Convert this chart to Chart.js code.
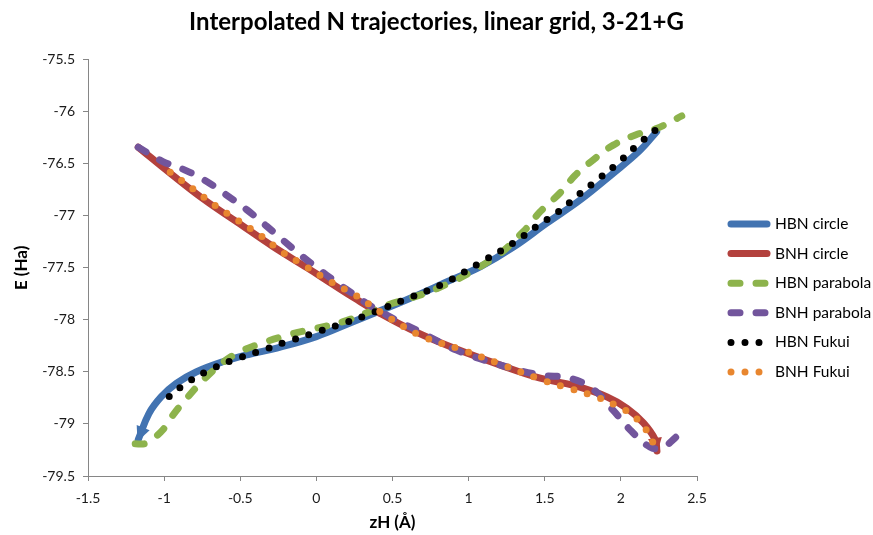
<!DOCTYPE html>
<html>
<head>
<meta charset="utf-8">
<script src="https://cdn.jsdelivr.net/npm/chart.js@4/dist/chart.umd.min.js"></script>
<style>
  html, body { margin: 0; padding: 0; background: #ffffff; }
  #wrap { width: 873px; height: 535px; }
</style>
</head>
<body>
<div id="wrap"><canvas id="chart" width="873" height="535"></canvas></div>
<script>
// Axis ticks
const xTicks = [-1.5, -1, -0.5, 0, 0.5, 1, 1.5, 2, 2.5];
const yTicks = [-79.5, -79, -78.5, -78, -77.5, -77, -76.5, -76, -75.5];

// Series labels
const seriesNames = ['HBN circle', 'BNH circle', 'HBN parabola', 'BNH parabola', 'HBN Fukui', 'BNH Fukui'];

// HBN circle (zH in Å, E in Ha), runs toward the arrow end
const hbnCircleX = [2.235, 2.126, 1.95, 1.73, 1.513, 1.294, 1.075, 0.878, 0.62, 0.407, 0.221, 0.0, -0.26, -0.44, -0.61, -0.79, -0.92, -1.02, -1.10, -1.17];
const hbnCircleY = [-76.19, -76.37, -76.59, -76.85, -77.07, -77.30, -77.49, -77.62, -77.79, -77.92, -78.03, -78.16, -78.27, -78.33, -78.40, -78.50, -78.61, -78.74, -78.90, -79.15];

// BNH circle, runs toward the arrow end
const bnhCircleX = [-1.17, -0.96, -0.74, -0.52, -0.29, -0.06, 0.11, 0.25, 0.41, 0.66, 0.92, 1.2, 1.47, 1.69, 1.91, 2.04, 2.148, 2.225, 2.237];
const bnhCircleY = [-76.34, -76.59, -76.84, -77.06, -77.29, -77.50, -77.66, -77.79, -77.93, -78.12, -78.28, -78.43, -78.56, -78.63, -78.74, -78.85, -78.99, -79.15, -79.26];

// HBN parabola
const hbnParabolaX = [-1.19, -1.13, -1.08, -1.005, -0.95, -0.85, -0.71, -0.546, -0.39, -0.173, 0.0, 0.177, 0.44, 0.79, 1.16, 1.36, 1.47, 1.60, 1.70, 1.82, 1.95, 2.10, 2.235, 2.40];
const hbnParabolaY = [-79.19, -79.19, -79.15, -79.05, -78.93, -78.75, -78.53, -78.34, -78.24, -78.14, -78.08, -78.016, -77.87, -77.70, -77.41, -77.15, -76.96, -76.78, -76.61, -76.46, -76.32, -76.22, -76.16, -76.04];

// BNH parabola
const bnhParabolaX = [-1.17, -1.005, -0.863, -0.72, -0.59, -0.458, -0.326, -0.206, -0.075, 0.068, 0.20, 0.396, 0.70, 0.92, 1.2, 1.47, 1.666, 1.82, 1.95, 2.07, 2.19, 2.27, 2.366, 2.40];
const bnhParabolaY = [-76.34, -76.48, -76.56, -76.67, -76.80, -76.94, -77.10, -77.25, -77.41, -77.57, -77.71, -77.90, -78.13, -78.29, -78.43, -78.53, -78.56, -78.67, -78.87, -79.07, -79.22, -79.23, -79.12, -79.07];

// HBN Fukui
const hbnFukuiX = [2.224, 2.108, 1.99, 1.858, 1.727, 1.59, 1.447, 1.294, 1.064, 0.823, 0.57, 0.32, 0.15, -0.024, -0.195, -0.37, -0.546, -0.714, -0.87, -1.01];
const hbnFukuiY = [-76.18, -76.32, -76.48, -76.64, -76.79, -76.96, -77.10, -77.26, -77.46, -77.66, -77.81, -77.96, -78.045, -78.13, -78.21, -78.30, -78.385, -78.49, -78.625, -78.79];

// BNH Fukui
const bnhFukuiX = [-0.96, -0.81, -0.666, -0.519, -0.366, -0.221, -0.064, 0.09, 0.254, 0.48, 0.70, 0.96, 1.2, 1.49, 1.666, 1.84, 2.005, 2.08, 2.148, 2.196, 2.228];
const bnhFukuiY = [-76.58, -76.74, -76.90, -77.04, -77.19, -77.35, -77.49, -77.63, -77.76, -77.98, -78.16, -78.29, -78.42, -78.58, -78.66, -78.74, -78.85, -78.92, -79.02, -79.13, -79.25];

const FONT = 'Lato, "Open Sans", sans-serif';

function pairs(xs, ys) {
  return xs.map((x, i) => ({ x: x, y: ys[i] }));
}

// Line styles
const SOLID = [];
const DASH = [9, 16];
const DOT = [0, 14];

function series(i, xs, ys, color, dash, arrow) {
  return {
    label: seriesNames[i],
    data: pairs(xs, ys),
    showLine: true,
    borderColor: color,
    backgroundColor: color,
    borderWidth: 7,
    borderDash: dash,
    borderCapStyle: 'round',
    borderJoinStyle: 'round',
    tension: 0.4,
    pointRadius: 0,
    pointHoverRadius: 0,
    order: 10 - i,
    endArrow: arrow
  };
}

// Arrow head at the last point of a series, aligned with the curve's final tangent
const arrowHeads = {
  id: 'arrowHeads',
  afterDatasetDraw(chart, args) {
    const ds = chart.data.datasets[args.index];
    if (!ds.endArrow) return;
    const pts = args.meta.data;
    const tip = pts[pts.length - 1];
    const prev = pts[pts.length - 2];
    const fx = (tip.cp1x !== undefined) ? tip.cp1x : prev.x;
    const fy = (tip.cp1y !== undefined) ? tip.cp1y : prev.y;
    const ang = Math.atan2(tip.y - fy, tip.x - fx);
    const len = 15, half = 7;
    const ctx = chart.ctx;
    const c = Math.cos(ang), s = Math.sin(ang);
    const tx = tip.x + c * 2, ty = tip.y + s * 2;
    const bx = tx - c * len, by = ty - s * len;
    ctx.save();
    ctx.fillStyle = ds.borderColor;
    ctx.beginPath();
    ctx.moveTo(tx, ty);
    ctx.lineTo(bx - s * half, by + c * half);
    ctx.lineTo(bx + s * half, by - c * half);
    ctx.closePath();
    ctx.fill();
    ctx.restore();
  }
};

// Legend at the right of the plot, with line samples in each series' own style
const sideLegend = {
  id: 'sideLegend',
  afterDraw(chart, args, opts) {
    const ctx = chart.ctx;
    chart.data.datasets.forEach((ds, i) => {
      const cy = opts.y + i * opts.step;
      ctx.save();
      ctx.strokeStyle = ds.borderColor;
      ctx.lineWidth = ds.borderWidth;
      ctx.lineCap = 'round';
      ctx.setLineDash(ds.borderDash || []);
      ctx.beginPath();
      ctx.moveTo(opts.x, cy);
      ctx.lineTo(opts.x + opts.sample, cy);
      ctx.stroke();
      ctx.setLineDash([]);
      ctx.fillStyle = '#000000';
      ctx.font = opts.font;
      ctx.textBaseline = 'middle';
      ctx.textAlign = 'left';
      ctx.fillText(ds.label, opts.x + opts.sample + opts.gap, cy);
      ctx.restore();
    });
  }
};

const tickFont = { family: FONT, size: 14 };
const titleFont = { family: FONT, size: 17, weight: 'bold' };
const numLabel = (v) => String(v);

new Chart(document.getElementById('chart'), {
  type: 'scatter',
  data: {
    datasets: [
      series(0, hbnCircleX, hbnCircleY, '#4273B1', SOLID, true),
      series(1, bnhCircleX, bnhCircleY, '#B3413D', SOLID, true),
      series(2, hbnParabolaX, hbnParabolaY, '#8DB34C', DASH, false),
      series(3, bnhParabolaX, bnhParabolaY, '#72559C', DASH, false),
      series(4, hbnFukuiX, hbnFukuiY, '#000000', DOT, false),
      series(5, bnhFukuiX, bnhFukuiY, '#E8862F', DOT, false)
    ]
  },
  options: {
    responsive: false,
    animation: false,
    devicePixelRatio: 1,
    layout: { padding: { left: 0, right: 0, top: 0, bottom: 0 } },
    plugins: {
      legend: { display: false },
      tooltip: { enabled: false },
      title: {
        display: true,
        text: 'Interpolated N trajectories, linear grid, 3-21+G',
        color: '#000000',
        font: { family: FONT, size: 24, weight: 'bold', lineHeight: 1.2 },
        padding: { top: 8, bottom: 23 }
      },
      sideLegend: {
        x: 731, y: 224, step: 29.6, sample: 36, gap: 8,
        font: '15.5px Lato, "Open Sans", sans-serif'
      }
    },
    scales: {
      x: {
        type: 'linear',
        min: -1.5, max: 2.5,
        afterBuildTicks: (s) => { s.ticks = xTicks.map(v => ({ value: v })); },
        afterFit: (s) => { s.height = 59; },
        border: { color: '#868686', width: 1 },
        grid: { display: true, drawOnChartArea: false, drawTicks: true, tickLength: 5, color: '#868686' },
        ticks: { color: '#1a1a1a', font: tickFont, padding: 9, maxRotation: 0, callback: numLabel },
        title: { display: true, text: 'zH (Å)', color: '#000000', font: titleFont, padding: { top: 0, bottom: 2 } }
      },
      y: {
        type: 'linear',
        min: -79.5, max: -75.5,
        afterBuildTicks: (s) => { s.ticks = yTicks.map(v => ({ value: v })); },
        afterFit: (s) => { s.width = 88; },
        border: { color: '#868686', width: 1 },
        grid: { display: true, drawOnChartArea: false, drawTicks: true, tickLength: 5, color: '#868686' },
        ticks: { color: '#1a1a1a', font: tickFont, padding: 8, callback: numLabel },
        title: { display: true, text: 'E (Ha)', color: '#000000', font: titleFont, padding: { top: 11, bottom: 0 } }
      },
      // empty band on the right that holds the legend
      legendBand: {
        type: 'linear',
        position: 'right',
        display: true,
        grid: { display: false },
        border: { display: false },
        ticks: { display: false },
        afterFit: (s) => { s.width = 176; }
      }
    }
  },
  plugins: [arrowHeads, sideLegend]
});
</script>
</body>
</html>
